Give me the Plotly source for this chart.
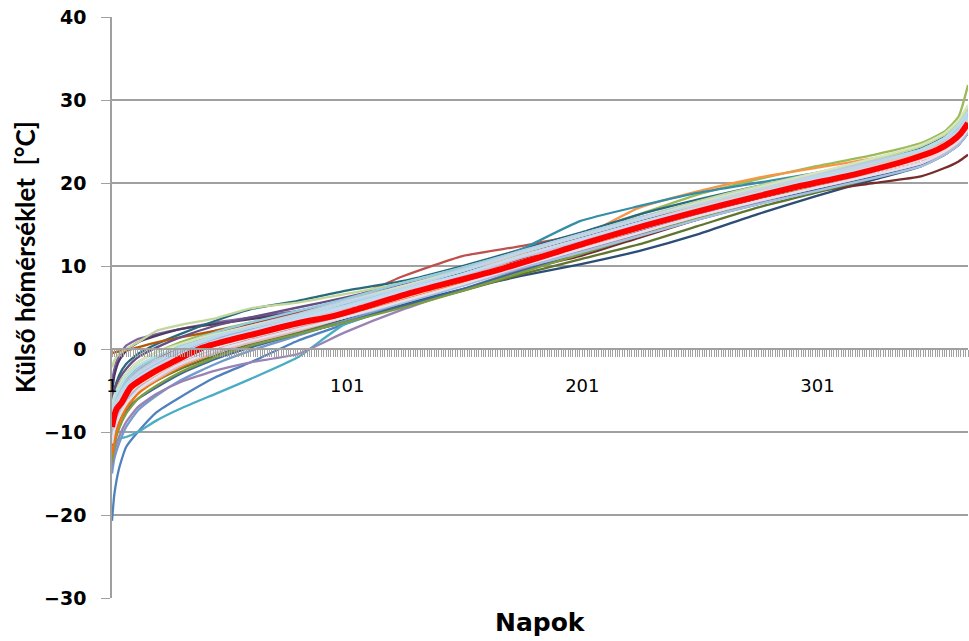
import plotly.graph_objects as go

# Sample days (x positions) at which each yearly sorted-temperature curve was read
DAYS = [1, 2, 4, 7, 12, 20, 30, 45, 60, 80, 100, 125, 150, 175, 200, 225, 250, 275, 300, 325, 345, 355, 361, 365]

S01 = [-20.7, -17.5, -14.4, -11.8, -10.0, -7.6, -5.8, -3.4, -1.6, 1.0, 3.0, 5.4, 7.8, 10.0, 12.0, 14.2, 16.2, 18.0, 19.8, 21.4, 22.8, 24.0, 25.2, 26.6]
S02 = [-8.2, -6.8, -5.6, -4.2, -2.8, -1.6, -0.2, 1.4, 2.6, 4.2, 5.8, 8.8, 11.2, 12.4, 13.8, 15.8, 17.6, 19.2, 20.8, 22.2, 23.6, 24.8, 26.0, 27.4]
S03 = [-7.0, -5.6, -4.2, -3.0, -1.6, -0.4, 0.8, 2.2, 3.2, 4.4, 5.8, 7.6, 9.6, 11.8, 13.8, 16.2, 18.6, 20.4, 22.0, 23.4, 24.8, 26.2, 28.0, 31.8]
S04 = [-4.0, -2.4, -0.8, 0.4, 1.2, 1.8, 2.4, 3.2, 3.8, 4.6, 5.8, 7.4, 9.2, 11.2, 13.0, 15.0, 16.8, 18.6, 20.2, 21.8, 23.2, 24.6, 26.0, 27.8]
S05 = [-13.0, -11.6, -10.8, -10.6, -10.0, -8.6, -7.2, -5.4, -3.6, -1.0, 3.0, 5.2, 7.8, 10.2, 12.6, 15.0, 17.0, 18.8, 20.4, 22.0, 23.4, 24.6, 25.8, 27.0]
S06 = [-12.0, -10.2, -8.4, -6.8, -5.0, -3.6, -2.0, -0.2, 1.2, 2.8, 4.4, 6.4, 8.4, 10.8, 13.4, 17.0, 19.0, 20.6, 21.8, 23.0, 24.2, 25.4, 26.6, 28.0]
S07 = [-10.4, -9.0, -7.6, -6.2, -4.8, -3.4, -2.0, -0.4, 0.8, 2.2, 3.6, 5.4, 7.2, 8.8, 10.2, 11.8, 13.8, 16.2, 18.4, 20.4, 22.0, 23.4, 24.8, 26.2]
S08 = [-9.0, -7.8, -6.6, -5.2, -3.8, -2.6, -1.2, 0.2, 1.2, 2.6, 4.0, 6.0, 8.0, 9.6, 11.2, 13.4, 15.6, 17.6, 19.0, 20.0, 20.8, 21.8, 22.6, 23.4]
S09 = [-11.0, -9.6, -8.2, -6.8, -5.2, -3.8, -2.4, -0.8, 0.6, 2.0, 3.4, 5.2, 7.0, 9.0, 10.8, 12.6, 14.8, 17.0, 18.8, 20.6, 22.2, 23.6, 24.8, 26.2]
S10 = [-5.4, -3.2, -1.4, -0.2, 0.8, 1.6, 2.4, 3.0, 3.6, 4.4, 5.6, 7.2, 9.0, 11.2, 13.2, 15.4, 17.4, 19.2, 20.8, 22.4, 23.8, 25.2, 26.6, 28.4]
S11 = [-7.0, -5.0, -3.2, -1.8, -0.6, 0.6, 1.8, 3.4, 4.8, 5.8, 7.0, 8.2, 10.0, 12.0, 14.0, 16.2, 18.0, 19.6, 21.0, 22.6, 24.2, 25.6, 27.0, 28.8]
S12 = [-0.5, -0.4, -0.3, -0.2, 0.2, 0.8, 1.4, 2.2, 3.0, 4.2, 5.4, 7.2, 9.2, 11.2, 13.2, 15.2, 17.2, 19.0, 20.6, 22.2, 23.6, 25.0, 26.4, 28.0]
S13 = [-15.0, -13.2, -11.4, -9.4, -7.4, -5.6, -3.8, -1.8, -0.2, 1.6, 3.4, 5.6, 7.8, 10.0, 12.0, 14.0, 16.0, 17.8, 19.4, 21.0, 22.4, 23.6, 24.8, 26.2]
S14 = [-8.6, -7.2, -5.8, -4.4, -2.8, -1.4, 0.0, 1.6, 2.8, 4.2, 5.6, 7.6, 9.6, 11.6, 13.4, 15.4, 17.2, 19.0, 20.6, 22.2, 23.6, 24.8, 26.0, 27.2]
S15 = [-12.6, -10.6, -8.6, -6.8, -5.0, -3.4, -1.8, -0.2, 1.0, 2.4, 3.8, 5.8, 7.8, 10.0, 12.2, 14.4, 16.6, 18.6, 20.4, 22.2, 23.8, 25.2, 26.6, 28.2]
S16 = [-14.0, -12.4, -10.6, -8.8, -7.0, -5.4, -4.0, -2.6, -1.6, -0.6, 2.0, 4.8, 7.2, 9.6, 11.8, 13.8, 15.8, 17.6, 19.2, 20.8, 22.2, 23.4, 24.6, 26.0]
S17 = [-10.0, -8.6, -7.2, -5.8, -4.2, -2.8, -1.2, 0.4, 1.8, 3.2, 4.8, 6.8, 8.8, 11.0, 13.0, 15.2, 17.0, 18.8, 20.4, 22.0, 23.6, 25.0, 26.6, 28.6]
S18 = [-9.8, -8.2, -6.8, -5.2, -3.6, -2.2, -0.8, 0.8, 2.0, 3.6, 5.2, 7.2, 9.2, 11.4, 13.4, 15.6, 17.4, 19.2, 20.8, 22.4, 23.8, 25.0, 26.2, 27.6]
S19 = [-11.6, -10.2, -8.8, -7.4, -6.0, -4.6, -3.0, -1.2, 0.2, 1.8, 3.2, 5.2, 7.2, 9.4, 11.4, 13.6, 15.6, 17.4, 19.2, 20.8, 22.2, 23.4, 24.6, 26.0]
S20 = [-7.6, -6.4, -5.2, -3.8, -2.4, -1.0, 0.2, 1.8, 3.0, 4.4, 5.8, 7.6, 9.2, 10.8, 12.2, 14.0, 16.0, 18.0, 19.8, 21.4, 22.8, 23.8, 24.8, 26.0]
S21 = [-13.6, -11.6, -9.6, -7.8, -6.0, -4.4, -2.8, -1.0, 0.4, 1.8, 3.2, 5.0, 7.0, 9.2, 11.4, 13.6, 15.8, 17.8, 19.6, 21.4, 23.0, 24.4, 25.8, 27.2]
S22 = [-6.0, -4.8, -3.6, -2.4, -1.0, 0.2, 1.4, 2.8, 3.8, 5.0, 6.2, 7.8, 9.6, 11.6, 13.4, 15.4, 17.2, 18.8, 20.4, 21.8, 23.2, 24.6, 26.0, 27.6]
S23 = [-9.0, -7.6, -6.2, -4.8, -3.4, -2.0, -0.6, 1.0, 2.2, 3.6, 5.0, 7.0, 9.2, 12.0, 15.4, 17.2, 18.8, 20.0, 21.2, 22.6, 24.0, 25.2, 26.4, 27.8]
S24 = [-12.8, -11.0, -9.0, -7.2, -5.4, -3.8, -2.2, -0.4, 1.0, 2.6, 4.0, 6.0, 8.0, 10.2, 12.2, 14.4, 16.4, 18.2, 19.8, 21.4, 22.8, 24.0, 25.2, 26.6]
S25 = [-8.8, -7.6, -6.2, -4.8, -3.2, -1.8, -0.4, 1.2, 2.4, 3.8, 5.4, 7.4, 9.4, 11.6, 13.6, 15.6, 17.6, 19.4, 21.0, 22.6, 24.0, 25.4, 26.8, 28.2]
S26 = [-10.2, -8.8, -7.4, -6.0, -4.6, -3.2, -1.6, 0.0, 1.2, 2.6, 4.2, 6.2, 8.2, 10.4, 12.4, 14.4, 16.4, 18.2, 19.8, 21.4, 22.8, 24.0, 25.2, 26.6]
S27 = [-2.2, -1.4, -0.6, 0.0, 0.8, 2.2, 2.9, 3.7, 4.9, 5.6, 6.6, 8.0, 9.8, 11.8, 13.8, 15.8, 17.8, 19.6, 21.2, 22.8, 24.4, 25.8, 27.2, 29.0]
S28 = [-11.0, -9.6, -8.0, -6.6, -5.0, -3.6, -2.0, -0.4, 0.8, 2.2, 3.8, 5.8, 7.8, 10.0, 12.0, 14.0, 16.0, 17.8, 19.4, 21.0, 22.4, 23.6, 24.8, 26.2]
S29 = [-7.8, -6.6, -5.2, -3.8, -2.4, -1.0, 0.4, 2.0, 3.2, 4.6, 6.0, 8.0, 9.8, 11.8, 13.8, 15.8, 17.6, 19.4, 21.0, 22.6, 24.0, 25.4, 26.8, 28.6]
S30 = [-9.6, -8.2, -6.8, -5.4, -3.8, -2.4, -0.8, 0.8, 2.0, 3.4, 5.0, 7.0, 9.0, 11.2, 13.2, 15.2, 17.2, 19.0, 20.6, 22.2, 23.6, 24.8, 26.2, 27.6]
S31 = [-8.0, -6.8, -5.6, -4.2, -2.8, -1.4, 0.0, 1.6, 2.8, 4.2, 5.8, 7.6, 9.6, 11.8, 13.8, 15.8, 17.6, 19.4, 21.0, 22.6, 24.0, 25.4, 26.8, 28.2]
S32 = [-10.8, -9.4, -8.0, -6.6, -5.0, -3.6, -2.0, -0.4, 0.8, 2.2, 3.8, 5.8, 7.8, 10.0, 12.0, 14.0, 16.0, 17.8, 19.4, 21.0, 22.4, 23.6, 24.8, 26.2]
S33 = [-6.8, -5.6, -4.4, -3.0, -1.6, -0.4, 0.6, 1.8, 2.8, 4.0, 5.6, 7.6, 9.4, 11.6, 13.6, 15.6, 17.6, 19.4, 21.2, 23.0, 24.6, 26.0, 27.6, 29.4]
S34 = [-9.2, -7.8, -6.6, -5.2, -3.8, -2.4, -0.8, 0.8, 2.0, 3.4, 4.8, 6.8, 8.8, 11.0, 13.0, 15.0, 16.8, 18.6, 20.2, 21.8, 23.2, 24.4, 25.8, 27.2]
S35 = [-7.2, -6.0, -4.8, -3.4, -2.0, -0.8, 0.2, 1.6, 2.6, 3.8, 5.2, 7.2, 9.0, 11.2, 13.2, 15.2, 17.0, 18.8, 20.6, 22.4, 24.0, 25.4, 27.0, 28.6]
S36 = [-10.0, -8.6, -7.2, -5.8, -4.4, -3.0, -1.4, 0.2, 1.4, 2.8, 4.2, 6.2, 8.2, 10.4, 12.4, 14.4, 16.4, 18.2, 19.8, 21.4, 22.8, 24.0, 25.4, 26.8]
S37 = [-8.6, -7.4, -6.2, -4.8, -3.4, -2.0, -0.6, 1.0, 2.2, 3.6, 5.0, 7.0, 9.0, 11.2, 13.2, 15.2, 17.0, 18.8, 20.4, 22.0, 23.4, 24.8, 26.2, 27.8]
S38 = [-9.8, -8.4, -7.0, -5.6, -4.2, -2.8, -1.4, 0.2, 1.4, 2.8, 4.4, 6.4, 8.4, 10.6, 12.6, 14.6, 16.6, 18.4, 20.0, 21.6, 23.0, 24.4, 25.8, 27.2]
S39 = [-10.4, -9.0, -7.6, -6.2, -4.8, -3.4, -1.8, -0.2, 1.0, 2.4, 3.8, 5.6, 7.6, 9.8, 11.6, 13.6, 15.6, 17.4, 19.0, 20.6, 22.0, 23.4, 24.6, 26.0]
S40 = [-11.4, -9.8, -8.2, -6.6, -5.0, -3.4, -1.8, -0.2, 1.0, 2.4, 3.8, 5.8, 7.8, 10.0, 12.0, 14.0, 16.0, 17.8, 19.4, 21.0, 22.4, 23.8, 25.0, 26.4]
S41 = [-9.0, -7.8, -6.6, -5.2, -3.8, -2.4, -0.8, 0.6, 1.8, 3.2, 4.6, 6.6, 8.4, 10.6, 12.4, 14.4, 16.4, 18.2, 19.8, 21.4, 22.8, 24.0, 25.4, 26.8]
S42 = [-8.4, -7.2, -5.8, -4.4, -3.0, -1.6, -0.2, 1.4, 2.6, 4.0, 5.6, 7.4, 9.4, 11.6, 13.6, 15.6, 17.4, 19.2, 20.8, 22.4, 23.8, 25.2, 26.4, 28.0]

SERIES = [S01, S02, S03, S04, S05, S06, S07, S08, S09, S10, S11, S12, S13, S14,
          S15, S16, S17, S18, S19, S20, S21, S22, S23, S24, S25, S26, S27, S28,
          S29, S30, S31, S32, S33, S34, S35, S36, S37, S38, S39, S40, S41, S42]

COLORS = ["#4F81BD", "#C0504D", "#9BBB59", "#8064A2", "#4BACC6", "#F79646",
          "#2C4D75", "#772C2A", "#5F7530", "#4D3B62", "#276A7C", "#B65708",
          "#729ACA", "#CD7371", "#AFC97A", "#9983B5", "#6FBDD1", "#F9AB6B",
          "#3A679C", "#9F3B38", "#7E9D40", "#664F83", "#358EA6", "#F3740B",
          "#95B3D7", "#D99694", "#C3D69B", "#B3A2C7", "#93CDDD", "#FAC090",
          "#B9CDE5", "#E6B9B8", "#D7E4BD", "#CCC1DA", "#B7DEE8", "#FCD5B5",
          "#C6D9F1", "#DBEEF4", "#A6C1E0", "#E6E0EC", "#F2DCDB", "#BFD5EA"]

# Mean curve (red)
MEAN_DAYS = [1, 2, 3, 5, 9, 18, 26, 39, 50, 60, 80, 94, 103, 130, 166, 204, 228, 260, 290, 319, 340, 352, 358, 362, 365]
MEAN_VALS = [-9.4, -8.0, -7.2, -6.5, -4.6, -2.9, -1.7, 0.1, 1.0, 1.7, 3.1, 3.9, 4.6, 6.9, 9.6, 12.9, 14.9, 17.3, 19.4, 21.2, 22.8, 24.0, 25.0, 26.0, 27.2]

X_TICKS = [1, 101, 201, 301]
Y_TICKS = [-30, -20, -10, 0, 10, 20, 30, 40]

GRAY = "#A0A0A0"

fig = go.Figure()
for vals, col in zip(SERIES, COLORS):
    fig.add_trace(go.Scatter(x=DAYS, y=vals, mode="lines",
                             line=dict(color=col, width=2.3, shape="spline", smoothing=0.5),
                             hoverinfo="skip", showlegend=False))
fig.add_trace(go.Scatter(x=MEAN_DAYS, y=MEAN_VALS, mode="lines",
                         line=dict(color="#FF0000", width=6, shape="spline", smoothing=0.6),
                         hoverinfo="skip", showlegend=False))

fig.update_layout(
    width=969, height=641,
    margin=dict(l=112, r=1, t=17, b=43),
    plot_bgcolor="white", paper_bgcolor="white",
    font=dict(family="DejaVu Sans", color="black"),
    xaxis=dict(
        range=[1, 365], tickmode="array", tickvals=X_TICKS,
        ticktext=[str(v) for v in X_TICKS],
        showgrid=False, zeroline=False,
        showline=True, linecolor=GRAY, linewidth=1.5,
        anchor="free", position=30 / 70,
        ticks="outside", ticklen=7, tickcolor=GRAY, tickwidth=1,
        minor=dict(dtick=1, tick0=1, ticks="outside", ticklen=7, tickcolor=GRAY, tickwidth=1),
        tickfont=dict(family="DejaVu Sans", size=18, color="black"),
        ticklabelstandoff=14,
    ),
    yaxis=dict(
        range=[-30, 40], tickmode="array", tickvals=Y_TICKS,
        showgrid=True, gridcolor=GRAY, gridwidth=1.5,
        zeroline=False, showline=True, linecolor=GRAY, linewidth=1.5,
        ticks="outside", ticklen=9, tickcolor=GRAY,
        tickfont=dict(family="DejaVu Sans", size=19, color="black", weight="bold"),
        ticklabelstandoff=11,
    ),
)

# Axis titles
fig.add_annotation(text="Külső hőmérséklet  [°C]", x=-87 / 856, y=(598 - 257) / 581,
                   xref="paper", yref="paper", xanchor="center", yanchor="middle",
                   textangle=-90, showarrow=False,
                   font=dict(family="Lato", size=26, color="black", weight="bold"))
fig.add_annotation(text="Napok", x=0.5, y=-24 / 581, xref="paper", yref="paper",
                   xanchor="center", yanchor="middle", showarrow=False,
                   font=dict(family="DejaVu Sans", size=25, color="black", weight="bold"))

fig.write_html("out.html")
